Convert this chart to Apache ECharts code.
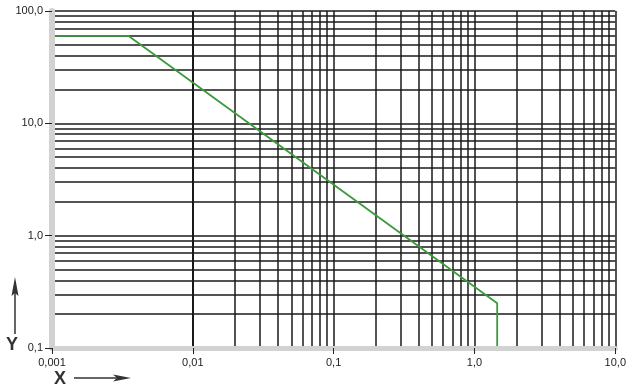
<!DOCTYPE html>
<html><head><meta charset="utf-8">
<script src="https://cdn.jsdelivr.net/npm/echarts@6/dist/echarts.min.js"></script>
<style>html,body{margin:0;padding:0;background:#fff}#c{width:629px;height:390px}</style>
</head><body><div id="c"></div>
<script>
// Data
var curveX = [0.001, 0.0035, 1.45, 1.45];
var curveY = [60, 60, 0.25, 0.1];
var xTickLabels = {'-3':'0,001','-2':'0,01','-1':'0,1','0':'1,0','1':'10,0'};
var yTickLabels = {'-1':'0,1','0':'1,0','1':'10,0','2':'100,0'};
var xDecades = [-3, -2, -1, 0];
var yDecades = [-1, 0, 1];
var mantissas = [1,2,3,4,5,6,7,8,9];

var gridX = [], gridY = [];
xDecades.forEach(function(d){ mantissas.forEach(function(m){ var v=+(m*Math.pow(10,d)).toPrecision(3); if (v>0.001) gridX.push(v); }); });
gridX.push(10);
yDecades.forEach(function(d){ mantissas.forEach(function(m){ var v=+(m*Math.pow(10,d)).toPrecision(3); if (v>0.1) gridY.push(v); }); });
gridY.push(100);

var chart = echarts.init(document.getElementById('c'), null, {renderer:'canvas'});
var lineCol = '#1a1a1a';
var markData = [];
gridX.forEach(function(v){ markData.push({xAxis: v}); });
gridY.forEach(function(v){ markData.push({yAxis: v}); });

function fmt(map){ return function(v){ var k = Math.round(Math.log10(v)); return map[String(k)] || ''; }; }

chart.setOption({
  animation:false,
  grid:{left:52, right:10, top:11, bottom:42},
  xAxis:{type:'log', logBase:10, min:0.001, max:10, z:10,
    axisLine:{show:true, onZero:false, lineStyle:{color:'#d2d2d2', width:5}},
    axisTick:{show:true, length:6, lineStyle:{color:'#222', width:1}},
    axisLabel:{formatter:fmt(xTickLabels), fontFamily:'Liberation Sans', fontSize:11, color:'#222', margin:9},
    splitLine:{show:false}, minorTick:{show:false}},
  yAxis:{type:'log', logBase:10, min:0.1, max:100, z:10,
    axisLine:{show:true, onZero:false, lineStyle:{color:'#d2d2d2', width:6}},
    axisTick:{show:true, length:7, lineStyle:{color:'#222', width:1}},
    axisLabel:{formatter:fmt(yTickLabels), fontFamily:'Liberation Sans', fontSize:11, color:'#222', margin:9},
    splitLine:{show:false}},
  series:[
    {type:'line', data:[], silent:true,
     markLine:{silent:true, symbol:['none','none'], animation:false,
       label:{show:false}, lineStyle:{color:lineCol, width:1.5, type:'solid'},
       emphasis:{disabled:true}, data:markData}, z:1},
    {type:'line', data:curveX.map(function(x,i){return [x, curveY[i]];}),
     showSymbol:false, symbol:'none', lineStyle:{color:'#3c9a3c', width:1.8}, z:5}
  ],
  graphic:[
    {type:'line', shape:{x1:15, y1:292, x2:15, y2:334}, style:{stroke:'#333', lineWidth:1.5}},
    {type:'polygon', shape:{points:[[15,277],[18.5,296],[15,293],[11.5,296]]}, style:{fill:'#333'}},
    {type:'text', left:6, top:336, style:{text:'Y', font:'bold 18px "Liberation Sans"', fill:'#333'}},
    {type:'text', left:54, top:370, style:{text:'X', font:'bold 18px "Liberation Sans"', fill:'#333'}},
    {type:'line', shape:{x1:74, y1:378, x2:118, y2:378}, style:{stroke:'#333', lineWidth:1.5}},
    {type:'polygon', shape:{points:[[131,378],[113,374.5],[117,378],[113,381.5]]}, style:{fill:'#333'}}
  ]
});
</script></body></html>
